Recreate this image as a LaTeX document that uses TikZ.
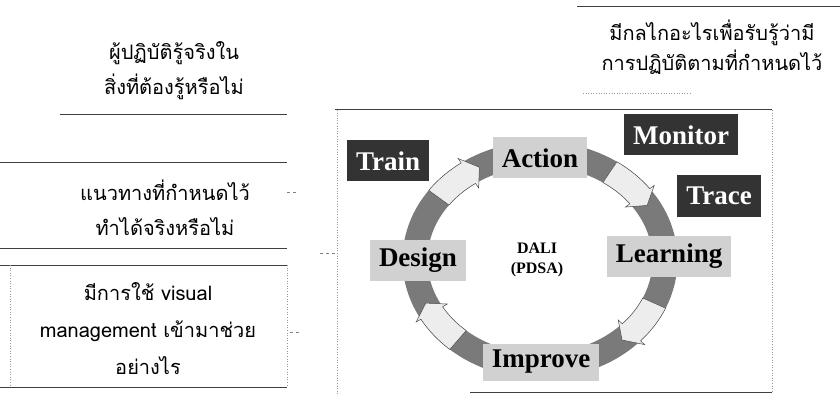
\documentclass[tikz,border=0pt]{standalone}
\usepackage{fontspec}
\setmainfont{Liberation Serif}
\newfontfamily\thaifont[Script=Thai]{Loma}

\begin{document}
\begin{tikzpicture}[x=1pt, y=1pt,
        note/.style={font=\thaifont\fontsize{20}{35}\selectfont, align=center, inner sep=0pt},
        rule/.style={black!75, line width=1pt},
        side/.style={black!40, dotted, line width=0.6pt},
        stub/.style={black!50, dashed, line width=0.6pt},
        stage/.style={font=\fontsize{27}{29}\selectfont\bfseries, inner xsep=9pt, inner ysep=0pt, minimum height=41pt},
        darkbox/.style={stage, fill=black!80, text=white},
        lightbox/.style={stage, fill=black!18, text=black},
        ringband/.style={black!52, line width=25pt},
        arrowpart/.style={fill=black!7, draw=black!70, line width=0.5pt}
    ]
        \useasboundingbox (0,0) rectangle (840,394);

        \node (know) [note] at (174,323) {ผู้ปฏิบัติรู้จริงใน\\สิ่งที่ต้องรู้หรือไม่};
        \draw [rule] (60,279) -- (287,279);
        \node (guide) [note] at (165,186) {แนวทางที่กำหนดไว้\\ทำได้จริงหรือไม่};
        \draw [rule] (0,231) -- (287,231);
        \draw [rule] (0,146) -- (287,146);
        \node (visual) [note, font=\thaifont\fontsize{20}{37}\selectfont] at (148,65) {มีการใช้ visual\\management เข้ามาช่วย\\อย่างไร};
        \draw [rule] (0,129) -- (287,129);
        \draw [rule] (0,7) -- (287,7);
        \draw [side] (10,129) -- (10,7);
        \draw [side] (287,129) -- (287,7);

        \node (mech) [note, font=\thaifont\fontsize{20}{30}\selectfont] at (712,347) {มีกลไกอะไรเพื่อรับรู้ว่ามี\\การปฏิบัติตามที่กำหนดไว้};
        \draw [rule] (577,387) -- (840,387);
        \draw [side] (583,301) -- (692,301);

        \draw [rule] (335,284) -- (772,284);
        \draw [side] (337,284) -- (337,0);
        \draw [side] (772,284) -- (772,2);
        \draw [rule] (470,1.5) -- (772,1.5);

        \coordinate (ring) at (540,134);
        \draw [ringband] (ring) ellipse [x radius=125, y radius=106];
        \begin{scope}[shift={(ring)}]
            \foreach \t in {133,45,-35,-142} {
                \pgfmathsetmacro\ta{\t+11}
                \pgfmathsetmacro\tb{\t-8}
                \pgfmathsetmacro\tc{\t-14}
                \filldraw [arrowpart] (\ta:137.5 and 118.5) arc [start angle=\ta, end angle=\tb, x radius=137.5, y radius=118.5]
                    -- (\tb:143 and 124) -- (\tc:125 and 106) -- (\tb:107 and 88)
                    -- (\tb:112.5 and 93.5) arc [start angle=\tb, end angle=\ta, x radius=112.5, y radius=93.5] -- cycle;
            }
        \end{scope}

        \node (train) [darkbox] at (388,233) {Train};
        \node (action) [lightbox] at (540,236) {Action};
        \node (monitor) [darkbox] at (681,259) {Monitor};
        \node (trace) [darkbox] at (719,198) {Trace};
        \node (design) [lightbox] at (418,134) {Design};
        \node (learning) [lightbox] at (669,138) {Learning};
        \node (improve) [lightbox, minimum height=37pt] at (541,32) {Improve};
        \node (dali) [font=\fontsize{16}{20}\selectfont\bfseries, align=center] at (537,134) {DALI\\(PDSA)};

        \coordinate (g1) at (287,202);
        \coordinate (g2) at (297,202);
        \coordinate (v1) at (290,62);
        \coordinate (v2) at (300,62);
        \coordinate (d1) at (320,141);
        \coordinate (d2) at (338,141);
        \draw [stub] (g1) -- (g2);
        \draw [stub] (v1) -- (v2);
        \draw [stub] (d1) -- (d2);
    \end{tikzpicture}
\end{document}
